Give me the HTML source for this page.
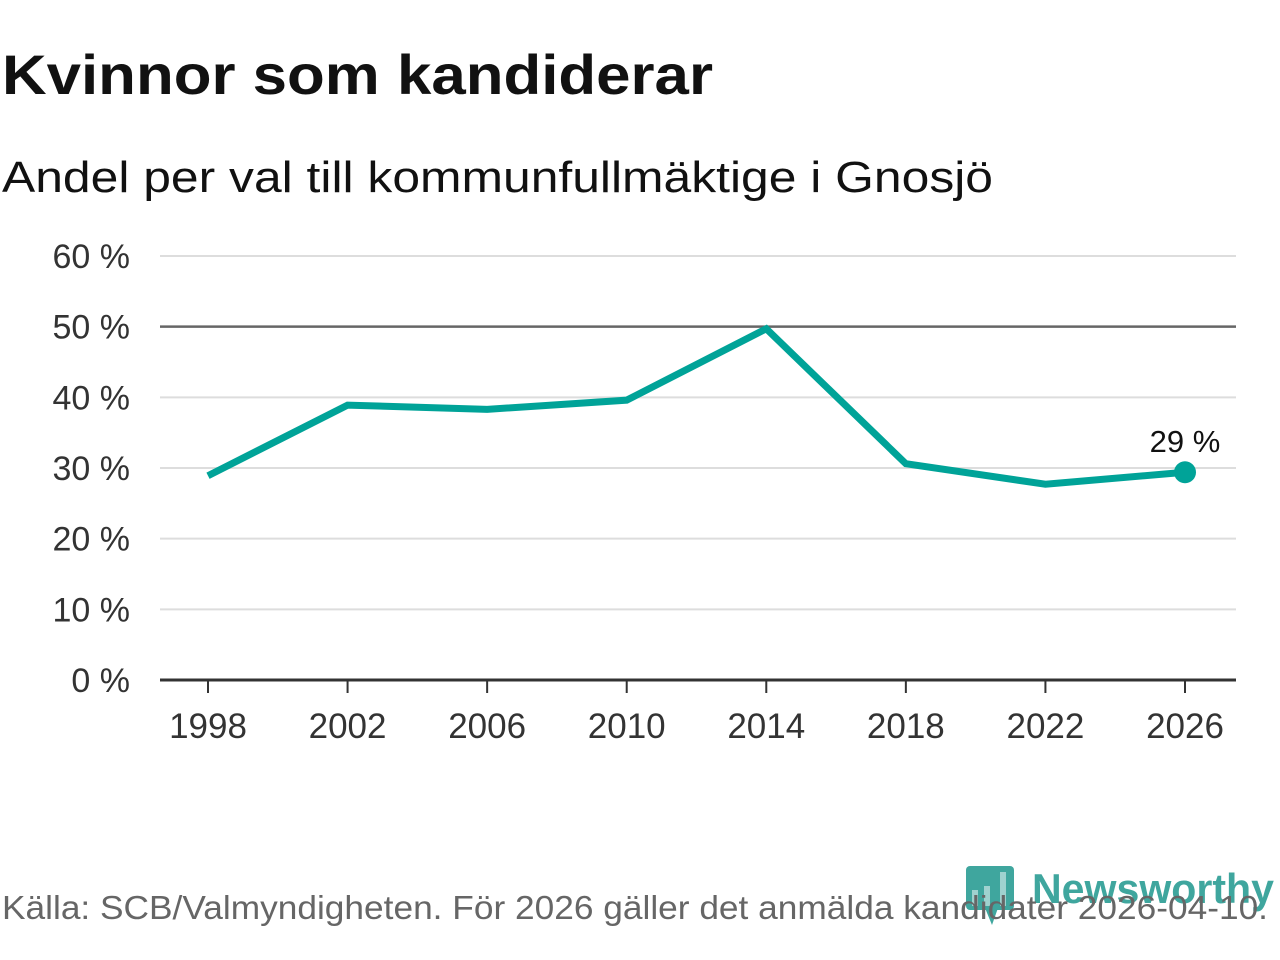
<!DOCTYPE html>
<html><head><meta charset="utf-8"><style>
body{margin:0;width:1280px;height:960px;background:#fff;font-family:"Liberation Sans","DejaVu Sans",sans-serif;overflow:hidden;position:relative}
</style></head><body>
<svg width="1280" height="960" style="position:absolute;left:0;top:0">
<text x="2" y="94" font-size="56" font-weight="bold" fill="#111" textLength="711" lengthAdjust="spacingAndGlyphs">Kvinnor som kandiderar</text>
<text x="2" y="192" font-size="44" fill="#111" textLength="991" lengthAdjust="spacingAndGlyphs">Andel per val till kommunfullmäktige i Gnosjö</text>
<g id="grid"></g>
<g id="xaxis"></g>
<path id="line" fill="none" stroke="#00a398" stroke-width="7" stroke-linejoin="miter"></path>
<g id="marks"></g>
<g opacity="0.75">
<rect x="966" y="866" width="48" height="44" rx="4" fill="#00897e"/>
<polygon points="985,908 992,925 998,908" fill="#00897e"/>
<rect x="972" y="890" width="6" height="16" fill="#fff" opacity="0.5"/>
<rect x="984" y="886" width="6" height="20" fill="#fff" opacity="0.5"/>
<rect x="1000" y="872" width="6" height="34" fill="#fff" opacity="0.5"/>
<text x="1032" y="903" font-size="42" font-weight="bold" fill="#00897e" textLength="242" lengthAdjust="spacingAndGlyphs">Newsworthy</text>
</g>
<text x="2" y="919" font-size="33" fill="#666" textLength="1266" lengthAdjust="spacingAndGlyphs">Källa: SCB/Valmyndigheten. För 2026 gäller det anmälda kandidater 2026-04-10.</text>
</svg>
<script>
const years=[1998,2002,2006,2010,2014,2018,2022,2026];
const values=[28.9,38.9,38.3,39.6,49.7,30.6,27.7,29.4];
const yTicks=[0,10,20,30,40,50,60];
const NS="http://www.w3.org/2000/svg";
const x=y=>208+(y-1998)*(1185-208)/28;
const yS=v=>680-v*(424/60);
const grid=document.getElementById('grid');
yTicks.forEach(t=>{
 const l=document.createElementNS(NS,'line');
 l.setAttribute('x1',160);l.setAttribute('x2',1236);
 l.setAttribute('y1',yS(t));l.setAttribute('y2',yS(t));
 l.setAttribute('stroke',t===0?'#333':(t===50?'#666':'#ddd'));
 l.setAttribute('stroke-width',t===0?3:(t===50?2.5:2));
 
 
 grid.appendChild(l);
 const tx=document.createElementNS(NS,'text');
 tx.setAttribute('x',130);tx.setAttribute('y',yS(t)+12);
 tx.setAttribute('text-anchor','end');tx.setAttribute('font-size','34');tx.setAttribute('fill','#333');
 tx.textContent=t+' %';
 
 
 grid.appendChild(tx);
});
const xa=document.getElementById('xaxis');
years.forEach(y=>{
 const l=document.createElementNS(NS,'line');
 l.setAttribute('x1',x(y));l.setAttribute('x2',x(y));l.setAttribute('y1',680);l.setAttribute('y2',693);
 l.setAttribute('stroke','#333');l.setAttribute('stroke-width',2);
 
 
 xa.appendChild(l);
 const tx=document.createElementNS(NS,'text');
 tx.setAttribute('x',x(y));tx.setAttribute('y',738);
 tx.setAttribute('text-anchor','middle');tx.setAttribute('font-size','35');tx.setAttribute('fill','#333');
 tx.textContent=y;
 
 
 xa.appendChild(tx);
});
document.getElementById('line').setAttribute('d',years.map((y,i)=>(i?'L':'M')+x(y)+','+yS(values[i])).join(''));
const m=document.getElementById('marks');
const li=years.length-1;
const c=document.createElementNS(NS,'circle');
c.setAttribute('cx',x(years[li]));c.setAttribute('cy',yS(values[li]));c.setAttribute('r',11);c.setAttribute('fill','#00a398');


m.appendChild(c);
const lb=document.createElementNS(NS,'text');
lb.setAttribute('x',x(years[li]));lb.setAttribute('y',yS(values[li])-20);
lb.setAttribute('text-anchor','middle');lb.setAttribute('font-size','31');lb.setAttribute('fill','#111');
lb.textContent=Math.round(values[li])+' %';


m.appendChild(lb);
</script>
</body></html>
